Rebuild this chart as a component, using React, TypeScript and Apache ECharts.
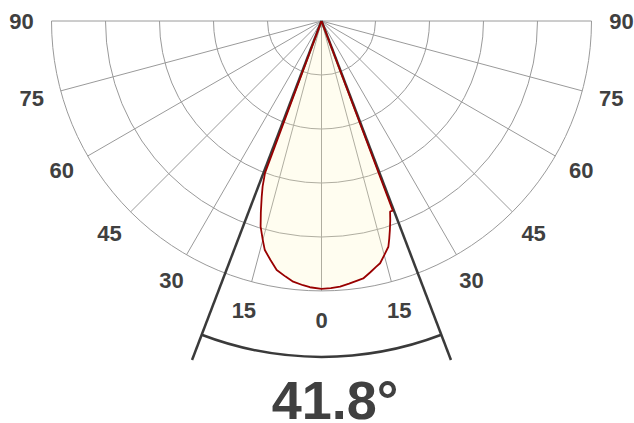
import React, { useEffect, useRef } from 'react';
import * as echarts from 'echarts';

const BEAM_ANGLE = 41.8;
const TICK_ANGLES = [-90, -75, -60, -45, -30, -15, 0, 15, 30, 45, 60, 75, 90];
const CURVE_ANGLES = [
  -22, -20.4, -19.6, -18.8, -17.6, -16.5, -15, -13.9, -12, -10.2, -8, -6.2, -4, -2.5, 0,
  2, 4, 6, 8, 9.2, 11, 12.5, 13.6, 15, 16.5, 17.3, 18.1, 19, 19.8, 20.6, 22,
];
const CURVE_VALUES = [
  0, 60, 65, 68.7, 74.3, 79.4, 84, 87.4, 90.6, 93.7, 95.6, 97.1, 98.1, 98.7, 99.2,
  99.0, 98.6, 97.8, 97.0, 96.6, 94.8, 93.3, 92.3, 89.8, 87.2, 84.4, 81.5, 78.2, 75, 75, 0,
];

const RADIUS_MAX = 100;
const LABEL_RADIUS = 111.1;
const ARC_RADIUS = 124.4;
const BEAM_LINE_RADIUS = 134.4;

const FONT = '"Liberation Sans", Arial, sans-serif';
const TEXT_COLOR = '#404040';
const GRID_COLOR = '#9a9a9a';
const BEAM_COLOR = '#3a3a3a';

export default function App() {
  const ref = useRef<HTMLDivElement>(null);
  useEffect(() => {
    document.body.style.margin = '0';
    const chart = echarts.init(ref.current!, null, { renderer: 'svg' });
    const half = BEAM_ANGLE / 2;

    chart.setOption({
      animation: false,
      polar: { center: [321.5, 21], radius: 270 },
      angleAxis: {
        type: 'value',
        min: -90,
        max: 90,
        interval: 15,
        startAngle: 180,
        endAngle: 360,
        clockwise: false,
        axisLine: { show: false },
        axisTick: { show: false },
        axisLabel: { show: false },
        splitLine: { show: true, lineStyle: { color: GRID_COLOR, width: 1 } },
      },
      radiusAxis: {
        type: 'value',
        min: 0,
        max: RADIUS_MAX,
        interval: 20,
        axisLine: { show: false },
        axisTick: { show: false },
        axisLabel: { show: false },
        splitLine: { show: true, lineStyle: { color: GRID_COLOR, width: 1 } },
      },
      graphic: [
        {
          type: 'text',
          x: 335,
          y: 400,
          style: {
            text: `${BEAM_ANGLE}°`,
            font: `bold 54px ${FONT}`,
            lineHeight: 42,
            fill: TEXT_COLOR,
            textAlign: 'center',
            textVerticalAlign: 'middle',
          },
        },
      ],
      series: [
        {
          type: 'line',
          coordinateSystem: 'polar',
          data: CURVE_ANGLES.map((a, i) => [CURVE_VALUES[i], a]),
          symbol: 'none',
          clip: false,
          z: 4,
          lineStyle: { color: '#990000', width: 1.8 },
          areaStyle: { color: 'rgba(255, 244, 190, 0.32)' },
        },
        {
          type: 'custom',
          coordinateSystem: 'polar',
          clip: false,
          silent: true,
          z: 3,
          data: [[BEAM_LINE_RADIUS, -half, ARC_RADIUS, half]],
          renderItem: (params: any, api: any) => {
            const c = api.coord([0, 0]);
            const pL = api.coord([api.value(0), api.value(1)]);
            const pR = api.coord([api.value(0), api.value(3)]);
            const aL = api.coord([api.value(2), api.value(1)]);
            const aR = api.coord([api.value(2), api.value(3)]);
            const r = Math.hypot(aL[0] - c[0], aL[1] - c[1]);
            const angL = Math.atan2(aL[1] - c[1], aL[0] - c[0]);
            const angR = Math.atan2(aR[1] - c[1], aR[0] - c[0]);
            const style = { stroke: BEAM_COLOR, lineWidth: 2.5, fill: 'none' };
            return {
              type: 'group',
              children: [
                { type: 'line', shape: { x1: c[0], y1: c[1], x2: pL[0], y2: pL[1] }, style },
                { type: 'line', shape: { x1: c[0], y1: c[1], x2: pR[0], y2: pR[1] }, style },
                {
                  type: 'arc',
                  shape: { cx: c[0], cy: c[1], r, startAngle: angR, endAngle: angL, clockwise: true },
                  style,
                },
              ],
            };
          },
        },
        {
          type: 'scatter',
          coordinateSystem: 'polar',
          data: TICK_ANGLES.map((a) => [LABEL_RADIUS, a]),
          symbolSize: 0,
          clip: false,
          silent: true,
          itemStyle: { opacity: 1 },
          label: {
            show: true,
            position: [0, 0],
            align: 'center',
            verticalAlign: 'middle',
            formatter: (p: any) => String(Math.abs(p.value[1])),
            fontFamily: FONT,
            fontWeight: 'bold',
            fontSize: 22,
            color: TEXT_COLOR,
            opacity: 1,
            textBorderWidth: 0,
          },
        },
      ],
    });
    return () => chart.dispose();
  }, []);
  return <div ref={ref} style={{ width: 634, height: 423 }} />;
}
